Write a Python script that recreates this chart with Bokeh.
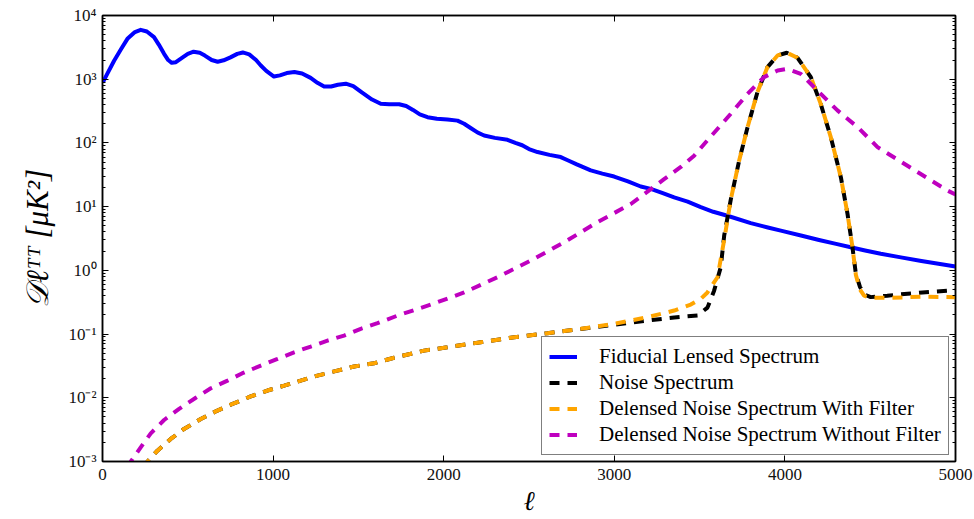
from bokeh.plotting import figure
from bokeh.models import Range1d, FixedTicker, LinearAxis, LogAxis
from bokeh.embed import file_html
from bokeh.resources import INLINE

# ---------------- data ----------------
ell_fid = [2, 30, 68, 110, 146, 190, 224, 260, 302, 330, 361, 385, 406, 430, 470, 500,
           534, 570, 600, 640, 675, 710, 750, 790, 822, 860, 900, 928, 960, 1005, 1040,
           1080, 1125, 1170, 1220, 1260, 1299, 1340, 1380, 1426, 1470, 1520, 1580, 1631,
           1680, 1739, 1780, 1820, 1860, 1905, 1960, 2022, 2081, 2120, 2160, 2200, 2237,
           2300, 2374, 2420, 2460, 2500, 2550, 2620, 2686, 2730, 2780, 2862, 2930, 2999,
           3080, 3155, 3214, 3280, 3351, 3430, 3507, 3580, 3663, 3800, 3900, 3976, 4100,
           4200, 4300, 4386, 4470, 4562, 4680, 4800, 4900, 5000]
dl_fid = [890, 1250, 1950, 3000, 4300, 5500, 5960, 5600, 4570, 3500, 2500, 2000, 1810,
          1850, 2200, 2500, 2700, 2600, 2350, 2000, 1880, 1980, 2200, 2500, 2630, 2450,
          2000, 1640, 1350, 1100, 1150, 1250, 1300, 1230, 1050, 880, 767, 770, 820, 850,
          780, 620, 480, 411, 405, 405, 380, 330, 280, 253, 240, 234, 224, 200, 170, 145,
          131, 120, 112, 100, 92, 80, 72, 65, 60, 53, 46, 37, 33, 29.7, 25, 20.7, 19,
          16.5, 14, 12, 9.8, 8.3, 7.2, 5.5, 4.7, 4.2, 3.5, 3.0, 2.6, 2.3, 2.05, 1.82, 1.6,
          1.4, 1.27, 1.15]

ell_noise = [240, 264, 322, 400, 478, 576, 674, 771, 869, 967, 1065, 1162, 1260, 1377,
             1475, 1592, 1709, 1885, 2022, 2217, 2413, 2608, 2804, 3000, 3195, 3351, 3488,
             3546, 3585, 3624, 3644, 3683, 3732, 3781, 3839, 3898, 3957, 4011, 4074, 4152,
             4210, 4269, 4328, 4367, 4396, 4416, 4440, 4464, 4503, 4600, 4679, 4855, 5000]
dl_noise = [0.0008, 0.001, 0.00148, 0.00226, 0.00324, 0.00465, 0.0063, 0.0082, 0.0105,
            0.013, 0.0155, 0.0186, 0.0223, 0.0267, 0.031, 0.0348, 0.0425, 0.055, 0.062,
            0.0745, 0.089, 0.103, 0.12, 0.14, 0.163, 0.182, 0.196, 0.26, 0.48, 1.12, 3.5,
            13, 53, 176, 625, 1550, 2360, 2600, 2170, 1080, 410, 123, 29, 7.7, 2.3, 0.88,
            0.55, 0.42, 0.38, 0.40, 0.42, 0.46, 0.49]

ell_filt = [240, 264, 322, 400, 478, 576, 674, 771, 869, 967, 1065, 1162, 1260, 1377,
            1475, 1592, 1709, 1885, 2022, 2217, 2413, 2608, 2804, 3000, 3195, 3351, 3448,
            3507, 3546, 3605, 3644, 3683, 3732, 3781, 3839, 3898, 3957, 4011, 4074, 4152,
            4210, 4269, 4328, 4367, 4396, 4416, 4440, 4464, 4503, 4600, 4800, 5000]
dl_filt = [0.0008, 0.001, 0.00148, 0.00226, 0.00324, 0.00465, 0.0063, 0.0082, 0.0105,
           0.013, 0.0155, 0.0186, 0.0223, 0.0267, 0.031, 0.0348, 0.0425, 0.055, 0.062,
           0.0745, 0.089, 0.103, 0.121, 0.145, 0.184, 0.234, 0.29, 0.357, 0.45, 0.78, 3.0,
           13, 53, 176, 625, 1550, 2360, 2600, 2170, 1080, 410, 123, 29, 7.7, 2.3, 0.85,
           0.5, 0.40, 0.37, 0.37, 0.385, 0.38]

ell_nofilt = [150, 166, 224, 283, 361, 449, 547, 635, 733, 820, 928, 1026, 1123, 1221,
              1319, 1416, 1514, 1612, 1729, 1924, 2120, 2315, 2511, 2706, 2901, 3097, 3292,
              3390, 3468, 3546, 3683, 3781, 3878, 3957, 4015, 4093, 4191, 4308, 4426, 4543,
              4777, 4953, 5000]
dl_nofilt = [0.0008, 0.001, 0.00167, 0.00277, 0.00448, 0.0067, 0.01, 0.0141, 0.0186,
             0.0243, 0.032, 0.0407, 0.0518, 0.0637, 0.079, 0.0947, 0.121, 0.148, 0.195,
             0.29, 0.45, 0.78, 1.43, 2.75, 5.7, 11, 27, 42, 63, 110, 287, 590, 1080, 1370,
             1455, 1215, 663, 324, 177, 86, 35, 17.9, 15.5]

x_ticks = [0, 1000, 2000, 3000, 4000, 5000]
y_ticks = [1e-3, 1e-2, 1e-1, 1e0, 1e1, 1e2, 1e3, 1e4]
y_tick_labels = ["10⁻³", "10⁻²", "10⁻¹", "10⁰", "10¹", "10²", "10³", "10⁴"]
legend_labels = ["Fiducial Lensed Spectrum", "Noise Spectrum",
                 "Delensed Noise Spectrum With Filter",
                 "Delensed Noise Spectrum Without Filter"]
x_title = "ℓ"
y_title = "𝒟ℓᵀᵀ [μK²]"

# ---------------- figure ----------------
FONT = "Liberation Serif"
p = figure(width=974, height=519,
           min_border_left=102, min_border_right=19, min_border_top=15, min_border_bottom=58,
           x_range=Range1d(0, 5000), y_range=Range1d(1e-3, 1e4), y_axis_type="log",
           output_backend="svg", toolbar_location=None)
p.background_fill_color = "white"
p.border_fill_color = "white"
p.outline_line_color = "black"
p.outline_line_width = 1.5
p.xgrid.visible = False
p.ygrid.visible = False

minor = [m * t for t in y_ticks[:-1] for m in range(2, 10)]

def style_axis(ax, labels=True):
    ax.axis_line_color = "black"
    ax.axis_line_width = 1.5
    ax.major_tick_line_color = "black"
    ax.minor_tick_line_color = "black"
    ax.major_tick_in = 6
    ax.major_tick_out = 0
    ax.minor_tick_in = 3
    ax.minor_tick_out = 0
    ax.major_tick_line_width = 1
    ax.minor_tick_line_width = 1
    if labels:
        ax.major_label_text_font = FONT
        ax.major_label_text_font_size = "17px"
        ax.major_label_text_color = "#111111"
        ax.axis_label_text_font = FONT
        ax.axis_label_text_font_style = "italic"
        ax.axis_label_text_color = "black"
    else:
        ax.major_label_text_font_size = "1px"
        ax.major_label_text_alpha = 0.0
        ax.major_label_standoff = 0

p.xaxis.ticker = FixedTicker(ticks=x_ticks)
p.yaxis.ticker = FixedTicker(ticks=y_ticks, minor_ticks=minor)
p.yaxis.major_label_overrides = {t: s for t, s in zip(y_ticks, y_tick_labels)}
style_axis(p.xaxis[0])
style_axis(p.yaxis[0])
p.xaxis.major_label_standoff = 7
p.yaxis.major_label_standoff = 6

p.xaxis.axis_label = x_title
p.xaxis.axis_label_text_font_size = "27px"
p.xaxis.axis_label_text_line_height = 0.6
p.xaxis.axis_label_standoff = 3
p.yaxis.axis_label = y_title
p.yaxis.axis_label_text_font_size = "31px"
p.yaxis.axis_label_standoff = 10

top_ax = LinearAxis(ticker=FixedTicker(ticks=x_ticks))
style_axis(top_ax, labels=False)
p.add_layout(top_ax, "above")
right_ax = LogAxis(ticker=FixedTicker(ticks=y_ticks, minor_ticks=minor))
style_axis(right_ax, labels=False)
p.add_layout(right_ax, "right")

# ---------------- lines ----------------
p.line(ell_fid, dl_fid, line_color="#0000FF", line_width=4, line_join="round",
       legend_label=legend_labels[0])
p.line(ell_noise, dl_noise, line_color="black", line_width=4, line_dash="10 8",
       legend_label=legend_labels[1])
p.line(ell_filt, dl_filt, line_color="#FFA500", line_width=4, line_dash="10 8",
       legend_label=legend_labels[2])
p.line(ell_nofilt, dl_nofilt, line_color="#BF00BF", line_width=4, line_dash="10 8",
       legend_label=legend_labels[3])

lg = p.legend[0]
lg.location = (439, 6)
lg.margin = 0
lg.padding = 7
lg.spacing = 1
lg.glyph_width = 28
lg.glyph_height = 21
lg.label_height = 21
lg.label_standoff = 22
lg.label_text_font = FONT
lg.label_text_font_size = "21px"
lg.label_text_color = "black"
lg.border_line_color = "black"
lg.border_line_width = 1.5
lg.background_fill_color = "white"
lg.background_fill_alpha = 1.0

open("out.html", "w").write(file_html(p, INLINE))
